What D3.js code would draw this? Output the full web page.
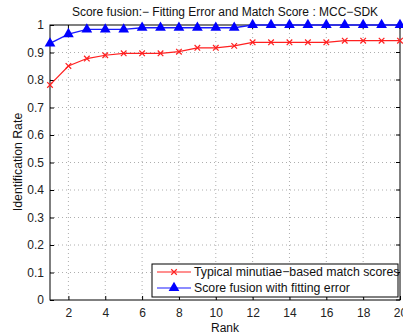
<!DOCTYPE html>
<html><head><meta charset="utf-8">
<script src="https://cdn.jsdelivr.net/npm/d3@7"></script>
<style>body{margin:0;background:#fff}svg{display:block}text{font-family:"Liberation Sans",Arial,sans-serif}</style>
</head><body>
<script>
const ranks = d3.range(1, 21);
const typical = [0.782,0.851,0.878,0.890,0.897,0.897,0.897,0.903,0.917,0.917,0.924,0.937,0.937,0.937,0.937,0.937,0.943,0.943,0.943,0.943];
const fusion = [0.933,0.967,0.984,0.984,0.984,0.990,0.990,0.990,0.990,0.990,0.990,1.0,1.0,1.0,1.0,1.0,1.0,1.0,1.0,1.0];
const xTicks = [2,4,6,8,10,12,14,16,18,20];
const yTicks = [0,0.1,0.2,0.3,0.4,0.5,0.6,0.7,0.8,0.9,1];
const seriesNames = ["Typical minutiae\u2212based match scores", "Score fusion with fitting error"];

const W = 403, H = 335;
const L = 50, R = 400, T = 25, B = 300;
const svg = d3.select("body").append("svg").attr("width", W).attr("height", H);
const x = d3.scaleLinear().domain([1, 20]).range([L, R]);
const y = d3.scaleLinear().domain([0, 1]).range([B, T]);

// grid
const grid = svg.append("g").attr("stroke", "#999").attr("stroke-width", 0.8).attr("stroke-dasharray", "1,3");
grid.selectAll(".gx").data(xTicks.filter(d => d < 20)).enter().append("line")
  .attr("x1", d => x(d)).attr("x2", d => x(d)).attr("y1", T).attr("y2", B);
grid.selectAll(".gy").data(yTicks.filter(d => d > 0 && d < 1)).enter().append("line")
  .attr("y1", d => y(d)).attr("y2", d => y(d)).attr("x1", L).attr("x2", R);

// axes
const xAxis = d3.axisBottom(x).tickValues(xTicks).tickSize(-4).tickPadding(8).tickFormat(d3.format("d"));
const yAxis = d3.axisLeft(y).tickValues(yTicks).tickSize(-4).tickPadding(6).tickFormat(d => d === 0 ? "0" : d === 1 ? "1" : d3.format(".1f")(d));
const gx = svg.append("g").attr("transform", `translate(0,${B})`).call(xAxis);
const gy = svg.append("g").attr("transform", `translate(${L},0)`).call(yAxis);
[gx, gy].forEach(g => {
  g.select(".domain").remove();
  g.selectAll("text").attr("font-size", 12).attr("fill", "#222").attr("font-family", '"Liberation Sans",Arial,sans-serif');
  g.selectAll("line").attr("stroke", "#000");
});
// top/right ticks
svg.append("g").selectAll("line").data(xTicks).enter().append("line")
  .attr("x1", d => x(d)).attr("x2", d => x(d)).attr("y1", T).attr("y2", T + 4).attr("stroke", "#000");
svg.append("g").selectAll("line").data(yTicks).enter().append("line")
  .attr("x1", R).attr("x2", R - 4).attr("y1", d => y(d)).attr("y2", d => y(d)).attr("stroke", "#000");
svg.append("rect").attr("x", L).attr("y", T).attr("width", R - L).attr("height", B - T)
  .attr("fill", "none").attr("stroke", "#000").attr("stroke-width", 1);

const line = d3.line().x((d, i) => x(ranks[i])).y(d => y(d));
// red series
svg.append("path").datum(typical).attr("d", line).attr("fill", "none").attr("stroke", "#ff2020").attr("stroke-width", 1.2);
const cross = d3.symbol().type(d3.symbolX).size(22);
svg.append("g").selectAll("path").data(typical).enter().append("path")
  .attr("d", cross).attr("transform", (d, i) => `translate(${x(ranks[i])},${y(d)})`)
  .attr("fill", "none").attr("stroke", "#ff2020").attr("stroke-width", 1.2);
// blue series
svg.append("path").datum(fusion).attr("d", line).attr("fill", "none").attr("stroke", "#1a1aff").attr("stroke-width", 1.3);
const tri = d3.symbol().type(d3.symbolTriangle).size(50);
svg.append("g").selectAll("path").data(fusion).enter().append("path")
  .attr("d", tri).attr("transform", (d, i) => `translate(${x(ranks[i])},${y(d)})`)
  .attr("fill", "#0000ff");

// legend
const lg = svg.append("g");
lg.append("rect").attr("x", 152).attr("y", 264).attr("width", 246).attr("height", 33)
  .attr("fill", "#fff").attr("stroke", "#000").attr("stroke-width", 1);
const items = [{c: "#ff2020", s: cross, f: "none"}, {c: "#1a1aff", s: tri, f: "#0000ff"}];
items.forEach((it, i) => {
  const yy = 272 + i * 16;
  lg.append("line").attr("x1", 157).attr("x2", 191).attr("y1", yy).attr("y2", yy).attr("stroke", it.c).attr("stroke-width", 1.2);
  lg.append("path").attr("d", it.s).attr("transform", `translate(174,${yy})`)
    .attr("fill", it.f).attr("stroke", i === 0 ? it.c : "none").attr("stroke-width", 1.2);
  lg.append("text").attr("x", 194).attr("y", yy + 4).attr("font-size", 12.3).attr("fill", "#111").text(seriesNames[i]);
});

svg.append("text").attr("x", 225).attr("y", 16).attr("text-anchor", "middle").attr("font-size", 12).attr("fill", "#111")
  .text("Score fusion:\u2212 Fitting Error and Match Score : MCC\u2212SDK");
svg.append("text").attr("x", 225).attr("y", 332).attr("text-anchor", "middle").attr("font-size", 12).attr("fill", "#111").text("Rank");
svg.append("text").attr("transform", "translate(22,162) rotate(-90)").attr("text-anchor", "middle").attr("font-size", 12.3).attr("fill", "#111").text("Identification Rate");
</script>
</body></html>
